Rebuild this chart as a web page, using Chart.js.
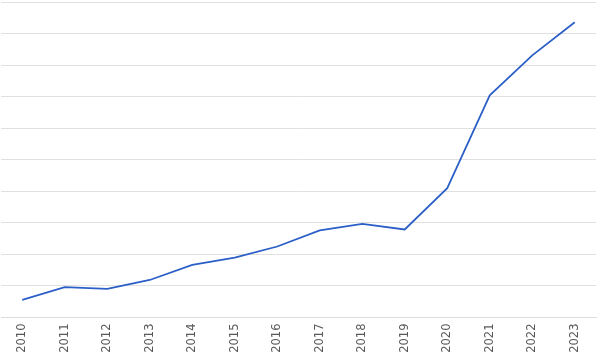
<!DOCTYPE html>
<html>
<head>
<meta charset="utf-8">
<script src="https://cdn.jsdelivr.net/npm/chart.js@4"></script>
<style>
html,body{margin:0;padding:0;background:#fff;overflow:hidden;}
#wrap{width:600px;height:357px;position:relative;}
</style>
</head>
<body>
<div id="wrap"><canvas id="c"></canvas></div>
<script>
const years = ['2010','2011','2012','2013','2014','2015','2016','2017','2018','2019','2020','2021','2022','2023'];
const values = [0.56,0.96,0.91,1.19,1.67,1.90,2.25,2.76,2.97,2.79,4.10,7.04,8.31,9.36];
const yMin = 0, yMax = 10, yStep = 1;

new Chart(document.getElementById('c'), {
  type: 'line',
  data: {
    labels: years,
    datasets: [{
      data: values,
      borderColor: '#2b5fc7',
      borderWidth: 1.75,
      pointRadius: 0,
      tension: 0,
      fill: false
    }]
  },
  options: {
    responsive: true,
    maintainAspectRatio: false,
    animation: false,
    layout: { padding: { left: 1, right: 4, top: 2, bottom: 0 } },
    plugins: { legend: { display: false }, tooltip: { enabled: false } },
    scales: {
      x: {
        offset: true,
        grid: { display: false, drawTicks: false },
        border: { display: true, color: '#dcdcdc', width: 1 },
        ticks: {
          maxRotation: 90, minRotation: 90, autoSkip: false,
          padding: 6,
          color: '#595959',
          font: { family: 'DejaVu Sans', size: 11.5 }
        },
        afterFit(s) { s.height = 39.5; }
      },
      y: {
        min: yMin, max: yMax,
        ticks: { display: false, stepSize: yStep },
        grid: { color: '#e0e0e0', lineWidth: 1, drawTicks: false },
        border: { display: false },
        afterFit(s) { s.width = 0; }
      }
    }
  }
});
</script>
</body>
</html>
